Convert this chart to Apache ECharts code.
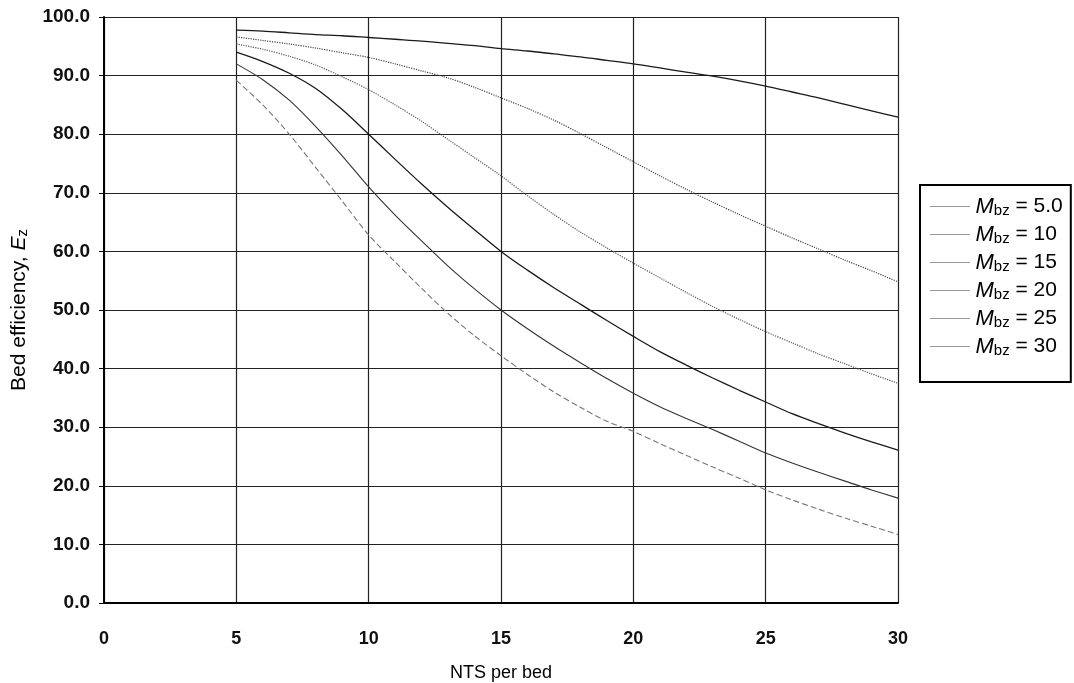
<!DOCTYPE html>
<html>
<head>
<meta charset="utf-8">
<title>Bed efficiency</title>
<script src="https://cdn.jsdelivr.net/npm/echarts@6/dist/echarts.min.js"></script>
<style>
    html, body { margin: 0; padding: 0; background: #fff; }
    #main { width: 1074px; height: 683px; }
</style>
</head>
<body>
<div id="main"></div>
<script>
// NTS per bed (x)
var nts = [5, 6, 7, 8, 9, 10, 11, 12, 13, 14, 15, 16, 17, 18, 19, 20, 21, 22, 23, 24, 25, 26, 27, 28, 29, 30];

// bed efficiency for each M_bz
var m5  = [97.75, 97.6, 97.3, 97.0, 96.8, 96.5, 96.2, 95.9, 95.5, 95.1, 94.6, 94.2, 93.7, 93.2, 92.6, 92.0, 91.3, 90.6, 89.9, 89.1, 88.2, 87.2, 86.2, 85.1, 84.0, 82.9];
var m10 = [96.6, 96.0, 95.4, 94.7, 93.9, 93.1, 92.0, 90.8, 89.6, 88.0, 86.2, 84.4, 82.4, 80.1, 77.7, 75.3, 72.9, 70.6, 68.4, 66.3, 64.3, 62.3, 60.4, 58.5, 56.7, 54.8];
var m15 = [95.4, 94.5, 93.3, 91.8, 89.8, 87.6, 85.0, 82.2, 79.1, 76.0, 72.9, 69.5, 66.3, 63.3, 60.6, 58.0, 55.5, 53.0, 50.6, 48.4, 46.3, 44.4, 42.5, 40.8, 39.1, 37.5];
var m20 = [94.0, 92.4, 90.4, 87.8, 84.2, 80.0, 75.7, 71.5, 67.5, 63.7, 60.0, 56.8, 53.8, 51.0, 48.2, 45.5, 42.9, 40.6, 38.4, 36.3, 34.3, 32.3, 30.6, 29.0, 27.5, 26.1];
var m25 = [92.0, 89.3, 85.8, 81.3, 76.3, 71.0, 66.2, 61.8, 57.5, 53.6, 50.0, 46.8, 43.8, 41.0, 38.3, 35.8, 33.5, 31.5, 29.6, 27.6, 25.6, 23.9, 22.3, 20.8, 19.3, 17.9];
var m30 = [89.2, 85.0, 80.0, 74.3, 68.6, 62.8, 58.2, 53.7, 49.4, 45.6, 42.2, 39.0, 36.0, 33.4, 31.0, 29.3, 27.2, 25.2, 23.2, 21.3, 19.3, 17.6, 16.0, 14.5, 13.1, 11.7];

var mLabels = ['5.0', '10', '15', '20', '25', '30'];
var mValues = [m5, m10, m15, m20, m25, m30];

// line look per curve (scan is grey-scale)
var styles = [
    { color: '#1a1a1a', type: 'solid',  width: 1.3 },
    { color: '#444',    type: 'dotted', width: 1.2 },
    { color: '#555',    type: 'dotted', width: 1.2 },
    { color: '#1a1a1a', type: 'solid',  width: 1.3 },
    { color: '#333',    type: 'solid',  width: 1.1 },
    { color: '#777',    type: [6, 3],   width: 1.1 }
];

var font = 'Liberation Sans, Arial, Helvetica, sans-serif';

function toPairs(ys) {
    var out = [];
    for (var i = 0; i < nts.length; i++) out.push([nts[i], ys[i]]);
    return out;
}

var series = [];
var legendData = [];
for (var k = 0; k < mLabels.length; k++) {
    var name = 'M' + mLabels[k];
    legendData.push(name);
    series.push({
        name: name,
        type: 'line',
        data: toPairs(mValues[k]),
        smooth: 0.3,
        symbol: 'none',
        lineStyle: styles[k],
        itemStyle: { color: styles[k].color }
    });
}

var myChart = echarts.init(document.getElementById('main'));

var option = {
    animation: false,
    backgroundColor: '#fff',
    textStyle: { fontFamily: font },
    grid: {
        left: 104,
        right: 176,
        top: 17,
        bottom: 80,
        outerBoundsMode: 'none'
    },
    legend: {
        data: legendData,
        orient: 'vertical',
        left: 920,
        top: 185,
        padding: [10, 8, 24, 10],
        borderColor: '#000',
        borderWidth: 2,
        itemWidth: 40,
        itemHeight: 14,
        itemGap: 5,
        itemStyle: { opacity: 0 },
        lineStyle: { width: 1, type: 'dotted', color: '#333' },
        formatter: function (n) {
            return '{i|M}{s|bz} = ' + n.substring(1);
        },
        textStyle: {
            fontFamily: font,
            fontSize: 21,
            color: '#000',
            rich: {
                i: { fontStyle: 'italic', fontSize: 22, fontFamily: font, color: '#000', lineHeight: 22 },
                s: { fontSize: 15, fontFamily: font, color: '#000', padding: [8, 0, 0, 0], lineHeight: 22 }
            }
        }
    },
    xAxis: {
        type: 'value',
        min: 0,
        max: 30,
        interval: 5,
        name: 'NTS per bed',
        nameLocation: 'middle',
        nameGap: 61,
        nameTextStyle: { fontSize: 18, color: '#000', fontFamily: font },
        axisLine: { show: true, onZero: false, lineStyle: { color: '#000', width: 2 } },
        axisTick: { show: false },
        axisLabel: { fontSize: 18, fontWeight: 'bold', color: '#111', margin: 27, fontFamily: font },
        splitLine: { show: true, lineStyle: { color: '#222', width: 1.2 } }
    },
    yAxis: {
        type: 'value',
        min: 0,
        max: 100,
        interval: 10,
        name: 'Bed efficiency, {i|E}{s|z}',
        nameLocation: 'middle',
        nameGap: 74,
        nameTextStyle: {
            fontSize: 21,
            color: '#000',
            fontFamily: font,
            rich: {
                i: { fontStyle: 'italic', fontSize: 21, fontFamily: font, color: '#000' },
                s: { fontSize: 15, fontFamily: font, color: '#000', padding: [7, 0, 0, 0] }
            }
        },
        axisLine: { show: true, lineStyle: { color: '#000', width: 2 } },
        axisTick: { show: true, length: 5, lineStyle: { color: '#000', width: 1 } },
        axisLabel: {
            fontSize: 19,
            fontWeight: 'bold',
            color: '#111',
            margin: 14,
            fontFamily: font,
            formatter: function (v) { return v.toFixed(1); }
        },
        splitLine: { show: true, lineStyle: { color: '#222', width: 1.2 } }
    },
    series: series
};

myChart.setOption(option);
</script>
</body>
</html>
